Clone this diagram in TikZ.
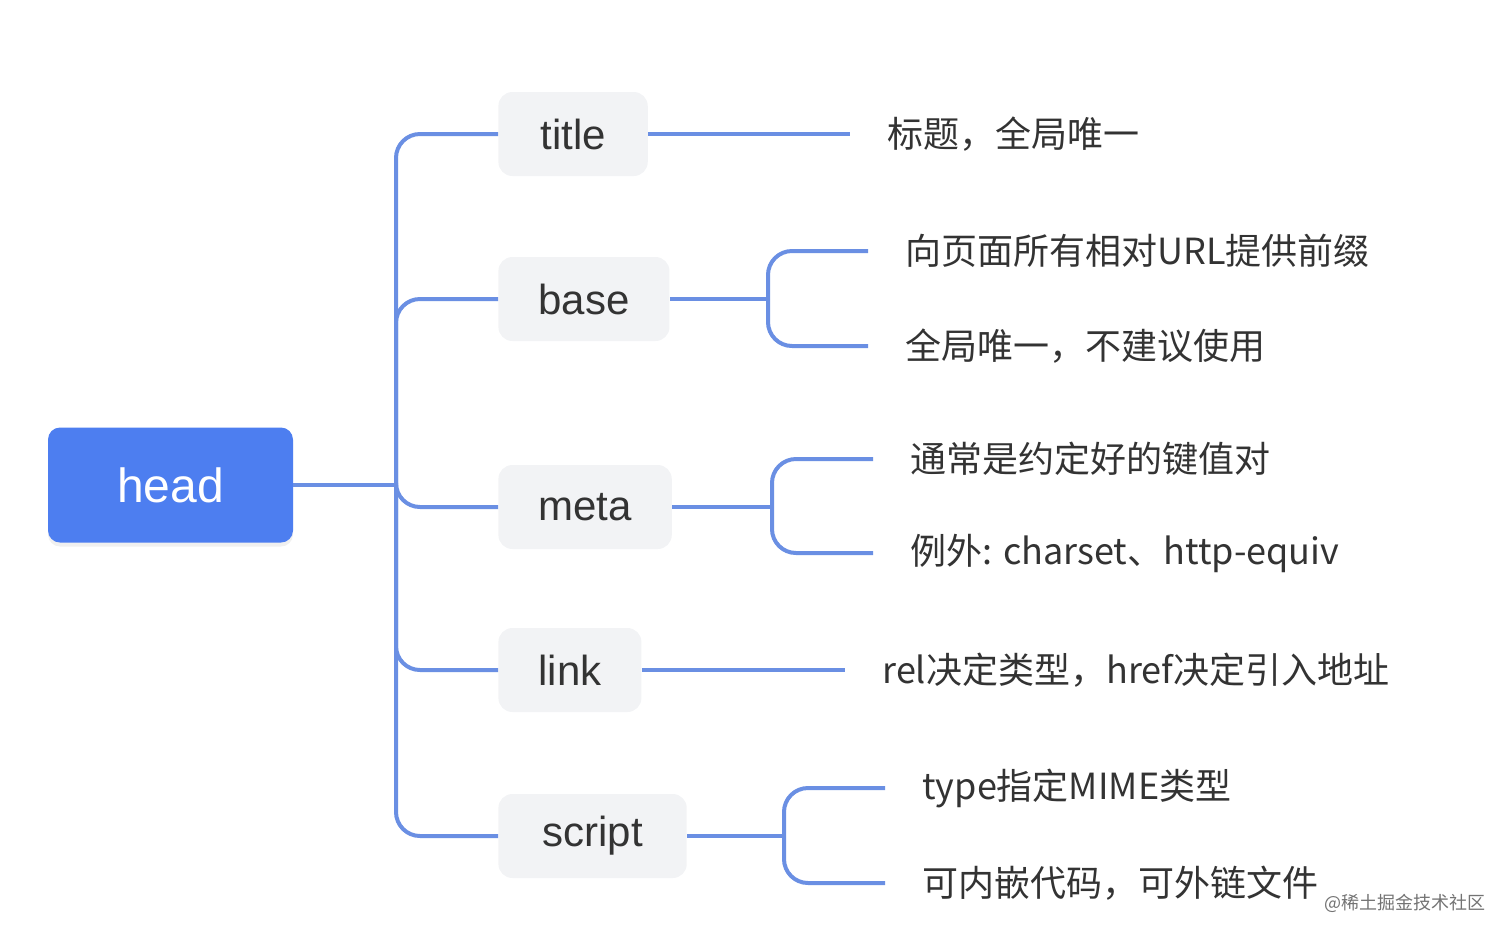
\documentclass[tikz,border=0pt]{standalone}
\usepackage{fontspec}
\usetikzlibrary{shadows}
\setmainfont{Noto Sans CJK SC}
\newfontfamily\tagfont{Liberation Sans}
\definecolor{headblue}{HTML}{4D7EF0}
\definecolor{linkblue}{HTML}{6A8FE3}
\definecolor{boxgray}{HTML}{F2F3F5}
\definecolor{inkgray}{HTML}{333333}

\begin{document}
\begin{tikzpicture}[x=0.5pt,y=-0.5pt,
    topic/.style={rounded corners=7pt, fill=boxgray, text=inkgray, font=\tagfont\fontsize{21}{25}\selectfont,
        minimum height=42pt, inner xsep=20pt, anchor=west},
    leaf/.style={text=inkgray, font=\fontsize{18}{22}\selectfont, inner xsep=18.5pt, anchor=west},
    branch/.style={draw=linkblue, line width=2pt, rounded corners=12pt}]
        \useasboundingbox (0,0) rectangle (1512,939);

        % root
        \node[fill=headblue, rounded corners=6pt, text=white, minimum width=122.5pt, minimum height=57.5pt,
            drop shadow={opacity=0.12, shadow xshift=0pt, shadow yshift=-2pt},
            font=\tagfont\fontsize{24}{28}\selectfont] (head) at (170.5,485) {head};

        % tags
        \node[topic, inner xsep=21pt] (title) at (498,134) {title};
        \node[topic] (base) at (498,299) {base};
        \node[topic] (meta) at (498,507) {meta};
        \node[topic] (link) at (498,670) {link};
        \node[topic, inner xsep=22pt] (script) at (498,836) {script};

        % notes
        \node[leaf] (title-A) at (850,134) {标题，全局唯一};
        \node[leaf] (base-A) at (868,251) {向页面所有相对URL提供前缀};
        \node[leaf] (base-B) at (868,346) {全局唯一，不建议使用};
        \node[leaf] (meta-A) at (873,459) {通常是约定好的键值对};
        \node[leaf] (meta-B) at (873,553) {例外: charset、http-equiv};
        \node[leaf] (link-A) at (845,670) {rel决定类型，href决定引入地址};
        \node[leaf] (script-A) at (885,788) {type指定MIME类型};
        \node[leaf] (script-B) at (885,883) {可内嵌代码，可外链文件};

        \coordinate (hub) at (396,485);
        \coordinate (base-fork) at (768,299);
        \coordinate (meta-fork) at (772,507);
        \coordinate (script-fork) at (784,836);

        \draw[branch] (head.east) -- (hub);
        \foreach \t in {title,base,meta,link,script}
            \draw[branch] (hub) |- (\t.west);

        \draw[branch] (title.east) -- (title-A.west);
        \draw[branch] (link.east) -- (link-A.west);
        \foreach \f in {base,meta,script} {
            \draw[branch] (\f.east) -- (\f-fork);
            \draw[branch] (\f-fork) |- (\f-A.west);
            \draw[branch] (\f-fork) |- (\f-B.west);
        }

        \node[text=black!55, font=\fontsize{9}{11}\selectfont, anchor=east] (mark) at (1493,903) {@稀土掘金技术社区};
    \end{tikzpicture}
\end{document}
